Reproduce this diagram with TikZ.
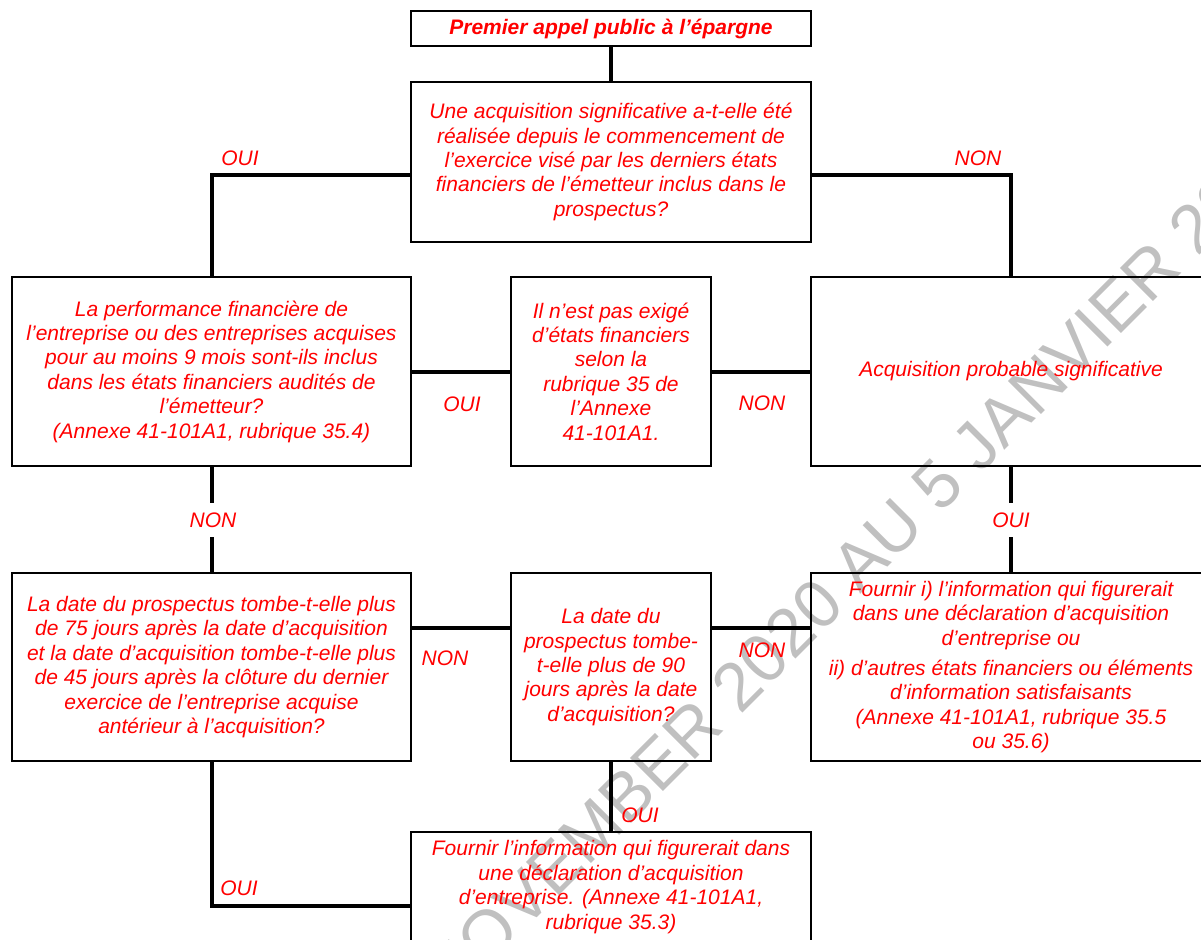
\documentclass[tikz,border=0pt]{standalone}
\usepackage{fontspec}
\setmainfont{Liberation Sans}
\definecolor{wmgrey}{RGB}{192,192,192}
\definecolor{txtred}{RGB}{255,0,0}
\begin{document}
\begin{tikzpicture}[x=1bp,y=-1bp,
  box/.style={draw=black,line width=1.3bp,inner sep=0pt,outer sep=0pt,align=center,text=txtred,font=\itshape\fontsize{21bp}{24.4bp}\selectfont},
  conn/.style={line width=4bp},
  lab/.style={text=txtred,font=\itshape\fontsize{21bp}{24.4bp}\selectfont,inner sep=0pt},
  gaplab/.style={lab,fill=white,minimum height=34bp,inner xsep=2bp},
  wm/.style={text=wmgrey,font=\fontsize{68bp}{80bp}\selectfont,rotate=45,inner sep=0pt}]
\useasboundingbox (0,0) rectangle (1201,940);
\clip (0,0) rectangle (1201,940);

% watermark
\node[wm] (w2) at (777,645) {2020};
\node[wm,anchor=base east] (w1) at (w2.base west) {NOVEMBER\kern0.278em};
\node[wm,anchor=base west] (w3) at (w2.base east) {\kern0.278em AU 5 JANVIER 2021};

% boxes
\node[box,minimum width=400bp,minimum height=35bp,font=\bfseries\itshape\fontsize{21bp}{24.4bp}\selectfont] (b1) at (611,28.5) {Premier appel public à l’épargne};
\node[box,minimum width=400bp,minimum height=160bp] (b2) at (611,162) {Une acquisition significative a-t-elle été\\réalisée depuis le commencement de\\l’exercice visé par les derniers états\\financiers de l’émetteur inclus dans le\\prospectus?};
\node[box,minimum width=399bp,minimum height=189bp] (b3) at (211.5,371.5) {La performance financière de\\l’entreprise ou des entreprises acquises\\pour au moins 9 mois sont-ils inclus\\dans les états financiers audités de\\l’émetteur?\\(Annexe 41-101A1, rubrique 35.4)};
\node[box,minimum width=200bp,minimum height=189bp] (b4) at (611,371.5) {Il n’est pas exigé\\d’états financiers\\selon la\\rubrique 35 de\\l’Annexe\\41-101A1.};
\node[box,minimum width=400bp,minimum height=189bp] (b5) at (1011,371.5) {Acquisition probable significative};
\node[box,minimum width=399bp,minimum height=188bp] (b6) at (211.5,667) {La date du prospectus tombe-t-elle plus\\de 75 jours après la date d’acquisition\\et la date d’acquisition tombe-t-elle plus\\de 45 jours après la clôture du dernier\\exercice de l’entreprise acquise\\antérieur à l’acquisition?};
\node[box,minimum width=200bp,minimum height=188bp] (b7) at (611,667) {La date du\\prospectus tombe-\\t-elle plus de 90\\jours après la date\\d’acquisition?};
\node[box,minimum width=400bp,minimum height=188bp] (b8) at (1011,667) {Fournir i) l’information qui figurerait\\dans une déclaration d’acquisition\\d’entreprise ou\\[6bp]ii) d’autres états financiers ou éléments\\d’information satisfaisants\\(Annexe 41-101A1, rubrique 35.5\\ou 35.6)};
\node[box,minimum width=400bp,minimum height=110bp] (b9) at (611,887) {Fournir l’information qui figurerait dans\\une déclaration d’acquisition\\d’entreprise. (Annexe 41-101A1,\\rubrique 35.3)};

% connectors
\coordinate (k1) at (211.5,175);
\coordinate (k2) at (1011,175);
\coordinate (k3) at (0,628);
\coordinate (k4) at (211.5,906);
\draw[conn] (b1.south) -- (b2.north);
\draw[conn] (b2.west |- k1) -- (k1) -- (b3.north);
\draw[conn] (b2.east |- k2) -- (k2) -- (b5.north);
\draw[conn] (b3.east) -- (b4.west);
\draw[conn] (b5.west) -- (b4.east);
\draw[conn] (b3.south) -- (b6.north);
\draw[conn] (b5.south) -- (b8.north);
\draw[conn] (b6.east |- k3) -- (b7.west |- k3);
\draw[conn] (b7.east |- k3) -- (b8.west |- k3);
\draw[conn] (b7.south) -- (b9.north);
\draw[conn] (b6.south) -- (k4) -- (b9.west |- k4);

% labels
\node[lab] (l1) at (240,158) {OUI};
\node[lab] (l2) at (978,158) {NON};
\node[lab] (l3) at (462,404) {OUI};
\node[lab] (l4) at (762,403) {NON};
\node[gaplab] (l5) at (213,520) {NON};
\node[gaplab] (l6) at (1011,520) {OUI};
\node[lab] (l7) at (445,658) {NON};
\node[lab] (l8) at (762,650) {NON};
\node[lab] (l9) at (640,815) {OUI};
\node[lab] (l10) at (239,888) {OUI};
\end{tikzpicture}
\end{document}
